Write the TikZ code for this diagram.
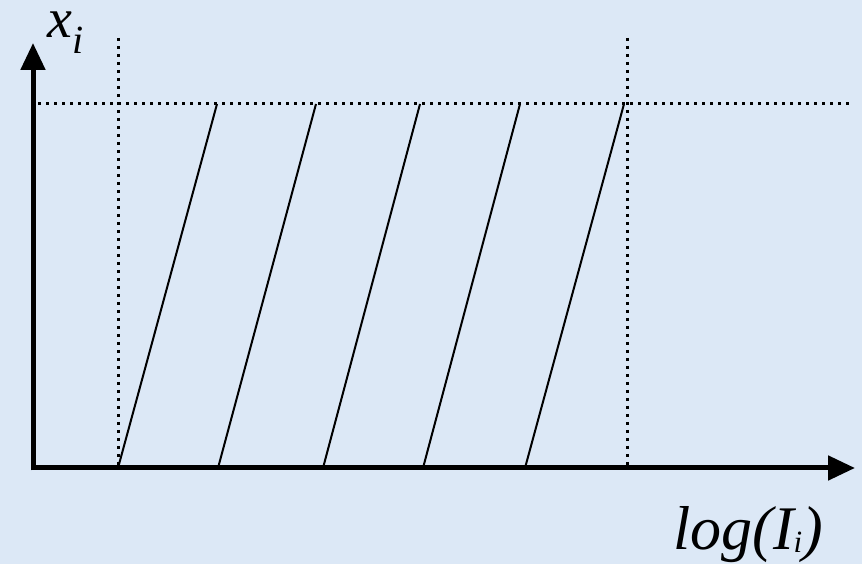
\documentclass[tikz,border=0pt]{standalone}
\usepackage{fontspec}
\setmainfont{Liberation Serif}
\usepackage{xcolor}
\usetikzlibrary{arrows.meta}
\definecolor{paperblue}{HTML}{DCE8F6}
\definecolor{inkblack}{HTML}{000000}
\tikzset{
  % ---- axes and guides ------------------------------------------------
  axisline/.style={draw=inkblack, line width=5pt,
    -{Triangle[length=27pt,width=24pt]}},
  guide/.style={draw=inkblack, line width=3pt, dash pattern=on 3pt off 5pt},
  slant/.style={draw=inkblack, line width=2pt},
  % ---- labels ---------------------------------------------------------
  axlabel/.style={font=\fontsize{56}{58}\selectfont\itshape, inner sep=0pt},
  loglabel/.style={font=\fontsize{62}{64}\selectfont\itshape, inner sep=0pt},
}

\begin{document}
\begin{tikzpicture}[x=1pt, y=1pt]

\def\yb{96}      % axis y
\def\yt{460}     % top guide y

% ---- page ------------------------------------------------------------
\fill[paperblue] (0,0) rectangle (862,564);
\useasboundingbox (0,0) rectangle (862,564);

% ---- reference points ------------------------------------------------
\coordinate (origin) at (33,\yb);
\coordinate (xtip) at (855,\yb);
\coordinate (ytip) at (33,521);
\coordinate (lowtop) at (118,526);
\coordinate (lowbot) at (118,\yb);
\coordinate (hightop) at (627,526);
\coordinate (highbot) at (627,\yb);
\coordinate (capleft) at (38,\yt);
\coordinate (capright) at (852,\yt);

% ---- dotted guides ---------------------------------------------------
\draw[guide] (lowtop) -- (lowbot);
\draw[guide] (hightop) -- (highbot);
\draw[guide] (capleft) -- (capright);

% ---- slanted lines ---------------------------------------------------
\foreach \i/\xa/\xb in {1/118/217, 2/218/316, 3/323/420, 4/423/520, 5/525/624}{
  \coordinate (s\i) at (\xa,\yb);
  \coordinate (e\i) at (\xb,\yt);
  \draw[slant] (s\i) -- (e\i);
}

% ---- axes ------------------------------------------------------------
\draw[axisline] (origin) -- (xtip);
\draw[axisline] ([yshift=-2.5pt]origin) -- (ytip);

% ---- labels ----------------------------------------------------------
\node[axlabel, anchor=base west] (ylab) at (47,526)
  {x\raisebox{-16pt}{\fontsize{40}{40}\selectfont i}};
\node[loglabel, anchor=base west] (xlab) at (673,14)
  {log(I\raisebox{-3pt}{\fontsize{31}{31}\selectfont i})};

\end{tikzpicture}
\end{document}
